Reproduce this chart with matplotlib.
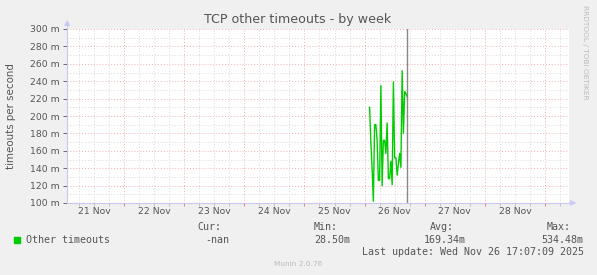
import numpy as np
from matplotlib import pyplot as plt
from matplotlib.ticker import MultipleLocator, FuncFormatter

# data: days since 21 Nov 00:00, values in milli-timeouts/s
start_day = 5 + 2.0 / 24  # 26 Nov 02:00
step_day = 0.5 / 24       # 30 min samples
values = [210, 170, 140, 102, 190, 190, 172, 126, 126, 235,
          120, 172, 172, 157, 192, 128, 128, 148, 121, 239,
          152, 152, 132, 145, 157, 141, 252, 180, 228, 226, 222]
day_labels = ['21 Nov', '22 Nov', '23 Nov', '24 Nov', '25 Nov',
              '26 Nov', '27 Nov', '28 Nov']
now_day = 5 + (17 + 7 / 60) / 24

W, H = 597, 275
bg = '#F0F0F0'
txt = '#555555'

fig = plt.figure(figsize=(W / 100, H / 100), dpi=100, facecolor=bg)
ax = fig.add_axes([67 / W, 1 - 203 / H, (568.7 - 67) / W, (203 - 29) / H])
ax.set_facecolor('white')

t = start_day + step_day * np.arange(len(values))
ax.plot(t, values, color='#00CC00', lw=1.0, zorder=3)
ax.axvline(now_day, color='#888888', lw=1.0, zorder=4)

ax.set_xlim(0.052, 8.394)
ax.set_ylim(100, 300)

# grid
ax.yaxis.set_major_locator(MultipleLocator(20))
ax.yaxis.set_minor_locator(MultipleLocator(10))
ax.xaxis.set_major_locator(MultipleLocator(1))
ax.xaxis.set_minor_locator(MultipleLocator(0.25))
ax.grid(which='minor', color='#D8D8D8', ls=(0, (1, 2)), lw=0.7)
ax.grid(which='major', color='#EEB0B0', ls=(0, (1, 2)), lw=0.7)
ax.set_axisbelow(True)

ax.yaxis.set_major_formatter(FuncFormatter(lambda v, p: '%d m' % v))
ax.tick_params(axis='y', which='major', labelsize=6.7, colors=txt, length=3, width=0.6, pad=2)
ax.tick_params(axis='y', which='minor', length=0)
ax.tick_params(axis='x', which='major', length=2, colors='#E07070', width=0.6, labelsize=0)
ax.tick_params(axis='x', which='minor', length=2, colors='#BBBBBB', width=0.6)
ax.set_xticklabels([])
for i, lab in enumerate(day_labels):
    ax.text(i + 0.5, 95, lab, ha='center', va='top', fontsize=6.7, color=txt)

for s in ['top', 'right']:
    ax.spines[s].set_visible(False)
for s in ['left', 'bottom']:
    ax.spines[s].set_color('#C8C8F0')
    ax.spines[s].set_linewidth(0.8)

# axis arrows
fig.add_artist(plt.Line2D([67 / W, 67 / W], [1 - 29 / H, 1 - 23 / H], color='#C8C8F0', lw=0.8))
fig.add_artist(plt.Line2D([568.7 / W, 573 / W], [1 - 203 / H, 1 - 203 / H], color='#C8C8F0', lw=0.8))
fig.text(67 / W, 1 - 23 / H, '\u25B2', color='#C8C8F8', fontsize=6, ha='center', va='center')
fig.text(573 / W, 1 - 203 / H, '\u25B6', color='#C8C8F8', fontsize=6, ha='center', va='center')

# titles
fig.text(298 / W, 1 - 19 / H, 'TCP other timeouts - by week', ha='center', va='center',
         fontsize=9.1, color=txt)
fig.text(11 / W, 1 - 116 / H, 'timeouts per second', rotation=90, ha='center', va='center',
         fontsize=7.4, color=txt)
fig.text(585 / W, 1 - 52 / H, 'RRDTOOL / TOBI OETIKER', rotation=270, ha='center', va='center',
         fontsize=5.3, color='#BBBBBB')

# legend
mono = 'DejaVu Sans Mono'
fs = 7.2
fig.patches.append(plt.Rectangle((14 / W, 1 - 243 / H), 6 / W, 6 / H,
                                 transform=fig.transFigure, color='#00CC00'))
fig.text(26 / W, 1 - 240 / H, 'Other timeouts', family=mono, fontsize=fs, color=txt, va='center')
cols = [(197, 'Cur:', 205, '-nan'), (314, 'Min:', 314, '28.50m'),
        (430, 'Avg:', 424, '169.34m'), (547, 'Max:', 541, '534.48m')]
for hx, head, vx, val in cols:
    fig.text(hx / W, 1 - 227 / H, head, family=mono, fontsize=fs, color=txt, va='center')
    fig.text(vx / W, 1 - 240 / H, val, family=mono, fontsize=fs, color=txt, va='center')
fig.text(362 / W, 1 - 252 / H, 'Last update: Wed Nov 26 17:07:09 2025', family=mono,
         fontsize=fs, color=txt, va='center')
fig.text(298 / W, 1 - 264 / H, 'Munin 2.0.76', fontsize=5.3, color='#BBBBBB', ha='center', va='center')

fig.savefig('out.png', dpi=100, facecolor=bg)
